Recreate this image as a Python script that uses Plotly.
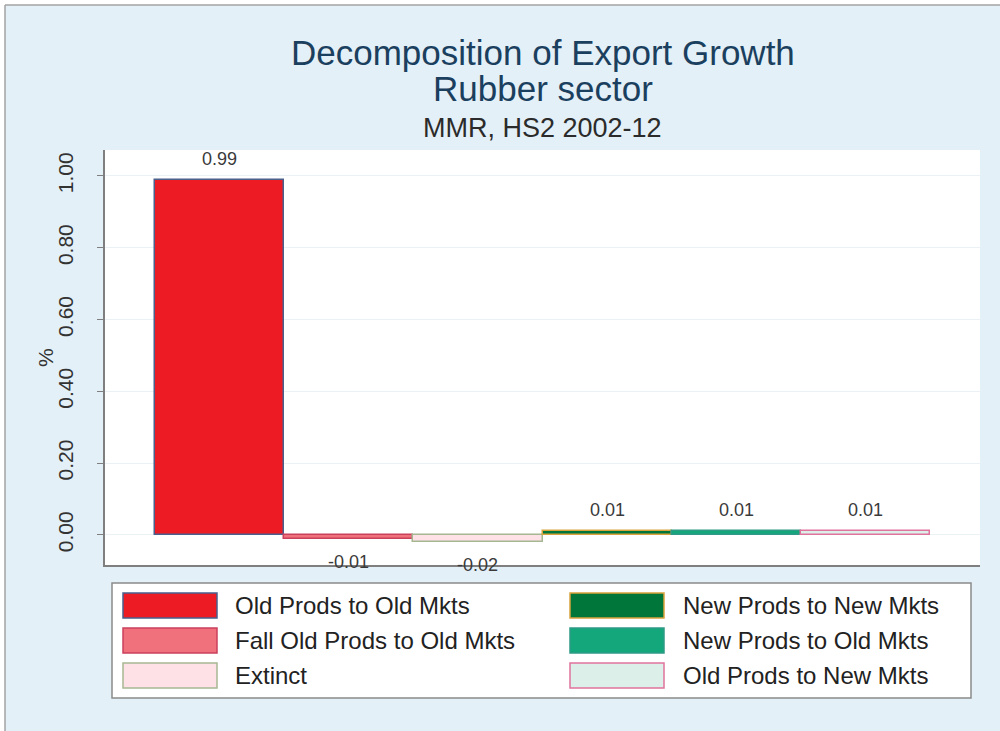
"""Decomposition of export growth, rubber sector (MMR, HS2 2002-12)."""

import plotly.graph_objects as go

CATEGORIES = [
    "Old Prods to Old Mkts",
    "Fall Old Prods to Old Mkts",
    "Extinct",
    "New Prods to New Mkts",
    "New Prods to Old Mkts",
    "Old Prods to New Mkts",
]
VALUES = [0.99, -0.01, -0.02, 0.01, 0.01, 0.01]
Y_TICKS = [0.0, 0.2, 0.4, 0.6, 0.8, 1.0]
Y_TICK_LABELS = ["0.00", "0.20", "0.40", "0.60", "0.80", "1.00"]
# legend reads row by row in the original, two columns
LEGEND_ORDER = [
    "Old Prods to Old Mkts",
    "New Prods to New Mkts",
    "Fall Old Prods to Old Mkts",
    "New Prods to Old Mkts",
    "Extinct",
    "Old Prods to New Mkts",
]

FILL = {
    "Old Prods to Old Mkts": "#ed1c24",
    "Fall Old Prods to Old Mkts": "#f0717b",
    "Extinct": "#fde1e6",
    "New Prods to New Mkts": "#00763a",
    "New Prods to Old Mkts": "#13a77b",
    "Old Prods to New Mkts": "#dcefe8",
}
OUTLINE = {
    "Old Prods to Old Mkts": "#4a5f8c",
    "Fall Old Prods to Old Mkts": "#c9405c",
    "Extinct": "#a6b892",
    "New Prods to New Mkts": "#d9a33e",
    "New Prods to Old Mkts": "#2f9a86",
    "Old Prods to New Mkts": "#e0739c",
}

FONT = "Liberation Sans, Arial, Helvetica, sans-serif"
BG = "#e4f0f7"

# plot area in page pixels
PL, PR, PT, PB = 105, 980, 150, 565


def px_x(px):
    return (px - PL) / (PR - PL)


def px_y(py):
    return (PB - py) / (PB - PT)


fig = go.Figure(
    go.Bar(
        x=CATEGORIES,
        y=VALUES,
        width=1,
        marker={
            "color": [FILL[c] for c in CATEGORIES],
            "line": {"color": [OUTLINE[c] for c in CATEGORIES], "width": 1.5},
        },
        showlegend=False,
        hovertemplate="%{x}: %{y:.2f}<extra></extra>",
    )
)

# value labels above / below each bar
for cat, val in zip(CATEGORIES, VALUES):
    fig.add_annotation(
        x=cat,
        y=val,
        text=f"{val:.2f}",
        showarrow=False,
        yanchor="bottom" if val >= 0 else "top",
        yshift=9 if val >= 0 else -11,
        font={"size": 18, "color": "#3a3a3a", "family": FONT},
    )

# titles
for text, ypix, size, color in [
    ("Decomposition of Export Growth", 53, 35, "#1b3f5e"),
    ("Rubber sector", 88, 35, "#1b3f5e"),
    ("MMR, HS2 2002-12", 128, 27, "#2b2b2b"),
]:
    fig.add_annotation(
        x=0.5, y=px_y(ypix), xref="paper", yref="paper", showarrow=False,
        xanchor="center", yanchor="middle", text=text,
        font={"size": size, "color": color, "family": FONT},
    )

# y axis title, placed by hand to sit close to the tick labels
fig.add_annotation(
    x=px_x(45), y=px_y(358), xref="paper", yref="paper", showarrow=False,
    xanchor="center", yanchor="middle", text="%", textangle=-90,
    font={"size": 21, "color": "#333333", "family": FONT},
)

shapes = [
    # white margin and thin frame at top / left of the page
    {"type": "rect", "xref": "paper", "yref": "paper", "x0": px_x(-5), "x1": px_x(5),
     "y0": px_y(740), "y1": px_y(-5), "fillcolor": "white", "line": {"width": 0}},
    {"type": "rect", "xref": "paper", "yref": "paper", "x0": px_x(-5), "x1": px_x(1005),
     "y0": px_y(5), "y1": px_y(-5), "fillcolor": "white", "line": {"width": 0}},
    {"type": "line", "xref": "paper", "yref": "paper", "x0": px_x(5), "x1": px_x(5),
     "y0": px_y(740), "y1": px_y(5), "line": {"color": "#a3a3a3", "width": 1.5}},
    {"type": "line", "xref": "paper", "yref": "paper", "x0": px_x(5), "x1": px_x(1005),
     "y0": px_y(5), "y1": px_y(5), "line": {"color": "#a3a3a3", "width": 1.5}},
    # legend box
    {"type": "rect", "xref": "paper", "yref": "paper", "x0": px_x(112), "x1": px_x(971),
     "y0": px_y(698), "y1": px_y(583), "fillcolor": "white",
     "line": {"color": "#8a8a8a", "width": 1.5}},
]

row_centers = [605.5, 640.5, 675.5]
swatch_x = [(123, 217), (570, 664)]
text_x = [233, 681]
for i, name in enumerate(LEGEND_ORDER):
    col, row = i % 2, i // 2
    yc = row_centers[row]
    shapes.append(
        {"type": "rect", "xref": "paper", "yref": "paper",
         "x0": px_x(swatch_x[col][0]), "x1": px_x(swatch_x[col][1]),
         "y0": px_y(yc + 12.5), "y1": px_y(yc - 12.5),
         "fillcolor": FILL[name], "line": {"color": OUTLINE[name], "width": 1.5}}
    )
    fig.add_annotation(
        x=px_x(text_x[col]), y=px_y(yc), xref="paper", yref="paper",
        xanchor="left", yanchor="middle", showarrow=False, text=name,
        font={"size": 24, "color": "#222222", "family": FONT},
    )

fig.update_layout(
    width=1000,
    height=731,
    autosize=False,
    margin={"l": PL, "r": 1000 - PR, "t": PT, "b": 731 - PB},
    paper_bgcolor=BG,
    plot_bgcolor="white",
    font={"family": FONT, "color": "#333333"},
    shapes=shapes,
    showlegend=False,
    bargap=0,
)
fig.update_xaxes(
    type="category",
    range=[-0.89, 5.89],
    showticklabels=False,
    showgrid=False,
    ticks="",
    showline=True,
    linecolor="#7f7f7f",
    linewidth=1.5,
    zeroline=False,
)
fig.update_yaxes(
    range=[-0.0836, 1.0724],
    tickvals=Y_TICKS,
    ticktext=Y_TICK_LABELS,
    tickangle=-90,
    tickfont={"size": 21, "color": "#333333"},
    ticks="outside",
    ticklen=6,
    tickcolor="#7f7f7f",
    ticklabelstandoff=16,
    showline=True,
    linecolor="#7f7f7f",
    linewidth=1.5,
    showgrid=True,
    gridcolor="#eaf2f6",
    gridwidth=1,
    zeroline=False,
)

# drop the browser's default 8px body margin so the page lines up with the original
fig.write_html(
    "out.html",
    config={"displayModeBar": False},
    post_script="document.body.style.margin = '0';",
)
